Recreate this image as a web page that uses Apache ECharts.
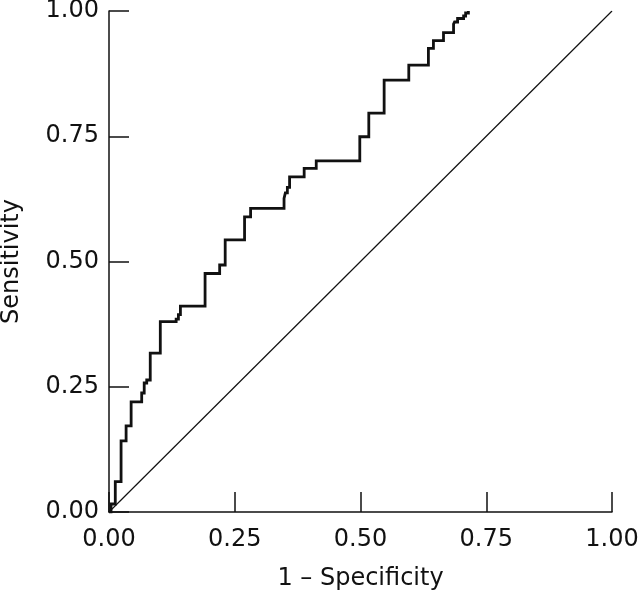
<!DOCTYPE html>
<html>
<head>
<meta charset="utf-8">
<script src="https://cdn.jsdelivr.net/npm/echarts@6/dist/echarts.min.js"></script>
<style>
  html, body { margin: 0; padding: 0; background: #fff; }
  #chart { width: 640px; height: 593px; }
</style>
</head>
<body>
<div id="chart"></div>
<script>
// ROC curve: each step moves right to fpr[i], then up to tpr[i]
const fpr = [0.004, 0.0125, 0.024, 0.034, 0.044, 0.065, 0.070, 0.075, 0.082, 0.102,
  0.1335, 0.138, 0.142, 0.191, 0.220, 0.231, 0.2695, 0.2815, 0.348, 0.3506,
  0.3546, 0.359, 0.388, 0.412, 0.4986, 0.5165, 0.547, 0.596, 0.635, 0.645,
  0.665, 0.685, 0.687, 0.693, 0.705, 0.709, 0.7145];
const tpr = [0.016, 0.0605, 0.142, 0.172, 0.220, 0.2375, 0.2575, 0.2635, 0.317, 0.380,
  0.385, 0.394, 0.411, 0.476, 0.493, 0.543, 0.589, 0.606, 0.626, 0.637,
  0.648, 0.669, 0.686, 0.701, 0.749, 0.796, 0.862, 0.892, 0.9255, 0.941,
  0.957, 0.974, 0.978, 0.985, 0.99, 0.996, 1.0];
const refLine = [[0, 0], [1, 1]];

// turn the steps into corner points
const rocPath = [[0, 0]];
let prevY = 0;
for (let i = 0; i < fpr.length; i++) {
  rocPath.push([fpr[i], prevY]);
  rocPath.push([fpr[i], tpr[i]]);
  prevY = tpr[i];
}

const font = 'DejaVu Sans';
const ink = '#111';

const axisCommon = {
  type: 'value',
  min: 0,
  max: 1,
  interval: 0.25,
  nameLocation: 'middle',
  nameTextStyle: { fontFamily: font, fontSize: 24, color: ink },
  axisLine: { show: true, onZero: false, lineStyle: { color: ink, width: 1.5 } },
  axisTick: { show: true, inside: true, length: 20, lineStyle: { color: ink, width: 1.5 } },
  axisLabel: {
    fontFamily: font, fontSize: 24, color: ink,
    formatter: v => v.toFixed(2)
  },
  splitLine: { show: false }
};

const chart = echarts.init(document.getElementById('chart'), null, { renderer: 'canvas' });
chart.setOption({
  animation: false,
  backgroundColor: '#fff',
  grid: { left: 109, right: 28, top: 11, bottom: 81, containLabel: false, outerBoundsMode: 'none' },
  xAxis: Object.assign({}, axisCommon, {
    name: '1 \u2013 Specificity',
    nameGap: 55,
    axisLabel: Object.assign({}, axisCommon.axisLabel, { margin: 16 })
  }),
  yAxis: Object.assign({}, axisCommon, {
    name: 'Sensitivity',
    nameGap: 85,
    axisLabel: Object.assign({}, axisCommon.axisLabel, { margin: 10 })
  }),
  series: [
    {
      type: 'line',
      data: refLine,
      symbol: 'none',
      lineStyle: { color: ink, width: 1.2 },
      silent: true
    },
    {
      type: 'line',
      data: rocPath,
      symbol: 'none',
      lineStyle: { color: ink, width: 2.8, join: 'miter' },
      silent: true
    }
  ]
});
</script>
</body>
</html>
